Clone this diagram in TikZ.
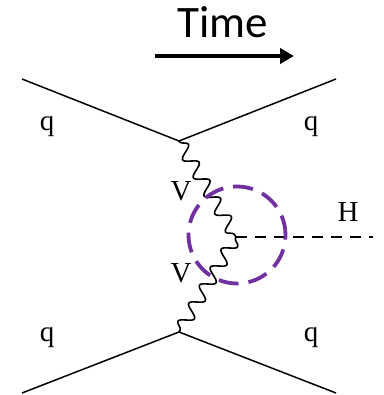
\documentclass[tikz,border=0pt]{standalone}
\usepackage{fontspec}
\setmainfont{Liberation Serif}
\newfontfamily\timefont{Carlito}
\usetikzlibrary{decorations.pathmorphing,arrows.meta}
\definecolor{circpurple}{HTML}{7030A0}
\begin{document}
\begin{tikzpicture}[x=1pt,y=-1pt,
  fermion/.style={line width=1.5pt},
  boson/.style={line width=1.6pt,decorate,decoration={snake,amplitude=6.5pt,segment length=21pt,pre length=1pt,post length=1pt}},
  scalar/.style={line width=1.5pt,dash pattern=on 11pt off 8pt},
  lbl/.style={font=\fontsize{29}{29}\selectfont,inner sep=0pt},
  loopcirc/.style={draw=circpurple,line width=3.8pt,dash pattern=on 20pt off 10pt}]
\useasboundingbox (0,0) rectangle (383,395);
% title
\node[font=\timefont\fontsize{45}{45}\selectfont,inner sep=0pt] (title) at (223,22) {Time};
\coordinate (ta) at (155,56);
\coordinate (tb) at (294,56);
\draw[line width=4pt,-{Triangle[length=14pt,width=15pt]}] (ta) -- (tb);
% vertices
\coordinate (v1) at (179,141);
\coordinate (v2) at (179,332);
\coordinate (vh) at (236,237);
\coordinate (q1) at (22,79);
\coordinate (q2) at (336,79);
\coordinate (q3) at (22,393);
\coordinate (q4) at (336,393);
\coordinate (h) at (373,237);
\draw[fermion] (q1) -- (v1) -- (q2);
\draw[fermion] (q3) -- (v2) -- (q4);
\draw[boson] (v1) -- (vh);
\draw[boson] (vh) -- (v2);
\draw[scalar] (vh) -- (h);
\node[loopcirc,circle,minimum size=97pt,inner sep=0pt] (loop) at (237,235) {};
% labels
\node[lbl] (lq1) at (47,127) {q};
\node[lbl] (lq2) at (311,127) {q};
\node[lbl] (lq3) at (47,338) {q};
\node[lbl] (lq4) at (311,338) {q};
\node[lbl] (lv1) at (181,191) {V};
\node[lbl] (lv2) at (181,273) {V};
\node[lbl] (lh) at (348,212) {H};
\end{tikzpicture}
\end{document}
